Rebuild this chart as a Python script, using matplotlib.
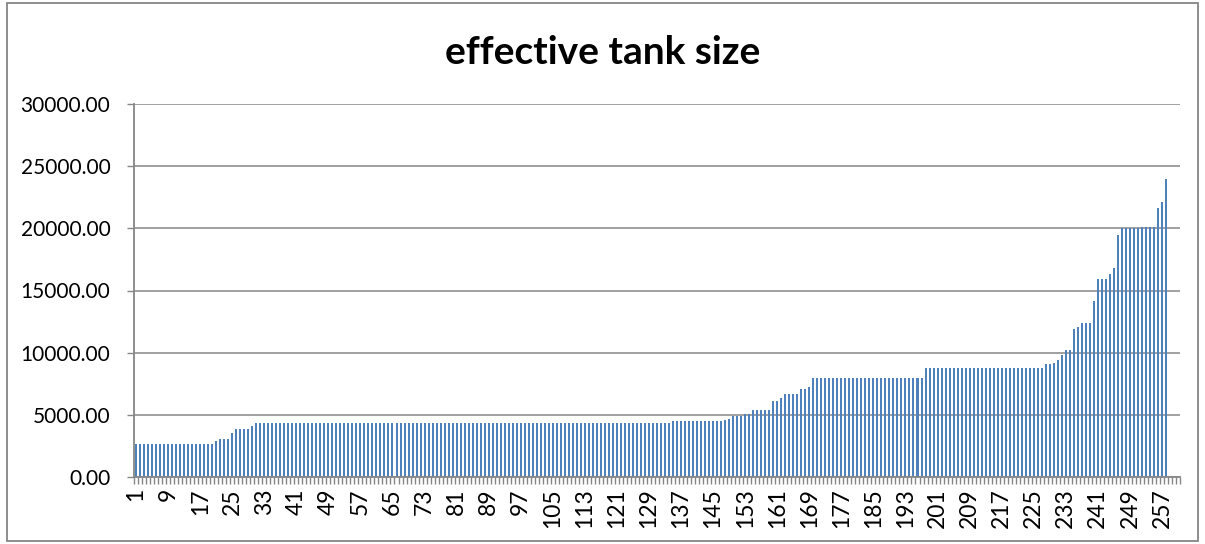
import numpy as np
import matplotlib.pyplot as plt
from matplotlib.patches import Rectangle
from matplotlib.ticker import FixedLocator, FuncFormatter

# tank sizes, sorted ascending as (level, how many bars)
levels = [2650, 2900, 3050, 3500, 3900, 4100, 4350, 4520, 4600, 4700,
          4900, 5050, 5350, 6150, 6330, 6650, 7050, 7200, 7950, 8800,
          9050, 9200, 9370, 9780, 10180, 10230, 11900, 12070, 12350, 14180,
          15920, 16320, 16800, 19500, 20000, 20100, 21650, 22120, 23950]
counts = [20, 1, 3, 1, 4, 1, 104, 13, 1, 1,
          3, 2, 5, 2, 1, 4, 2, 1, 28, 30,
          2, 1, 1, 1, 1, 1, 1, 1, 3, 1,
          3, 1, 1, 1, 5, 4, 1, 1, 1]
tank_size = np.repeat(levels, counts)
n_slots = 261          # category axis has a few empty slots at the end
label_step = 8
title = "effective tank size"

plt.rcParams['font.family'] = ['Lato', 'DejaVu Sans']
grey = '#868686'

fig = plt.figure(figsize=(12.05, 5.44), dpi=100)
ax = fig.add_axes([134 / 1205, 67 / 544, 1046 / 1205, 373 / 544])

x = np.arange(1, len(tank_size) + 1)
ax.bar(x, tank_size, width=0.5, color='#4F81BD', edgecolor='none',
       antialiased=False, zorder=3)

ax.set_xlim(0.5, n_slots + 0.5)
ax.set_ylim(0, 30000)
ax.set_yticks(np.arange(0, 30001, 5000))
ax.yaxis.set_major_formatter(FuncFormatter(lambda v, p: f"{v:.2f}"))
ax.grid(axis='y', color=grey, linewidth=1.1, zorder=1)

ax.xaxis.set_major_locator(FixedLocator(np.arange(1, n_slots + 1, label_step)))
ax.xaxis.set_minor_locator(FixedLocator(np.arange(0.5, n_slots + 1, 1)))
ax.set_xticklabels([str(i) for i in range(1, n_slots + 1, label_step)], rotation=90)
ax.tick_params(axis='x', which='major', length=0, pad=8, labelsize=16.5)
ax.tick_params(axis='x', which='minor', length=5, width=1, color=grey)
ax.tick_params(axis='y', length=5, width=1, color=grey, pad=12, labelsize=15)

for side in ['top', 'right']:
    ax.spines[side].set_visible(False)
for side in ['left', 'bottom']:
    ax.spines[side].set_color(grey)
    ax.spines[side].set_linewidth(1.3)
    ax.spines[side].set_zorder(4)

fig.text(0.5, 1 - 52 / 544, title, ha='center', va='center',
         fontsize=28, fontweight='bold')

# chart area border
fig.patches.append(Rectangle((7 / 1205, 3 / 544), 1191 / 1205, 538 / 544,
                             transform=fig.transFigure, fill=False,
                             edgecolor=grey, linewidth=1.3))

fig.savefig('out.png', dpi=100)
plt.close(fig)
